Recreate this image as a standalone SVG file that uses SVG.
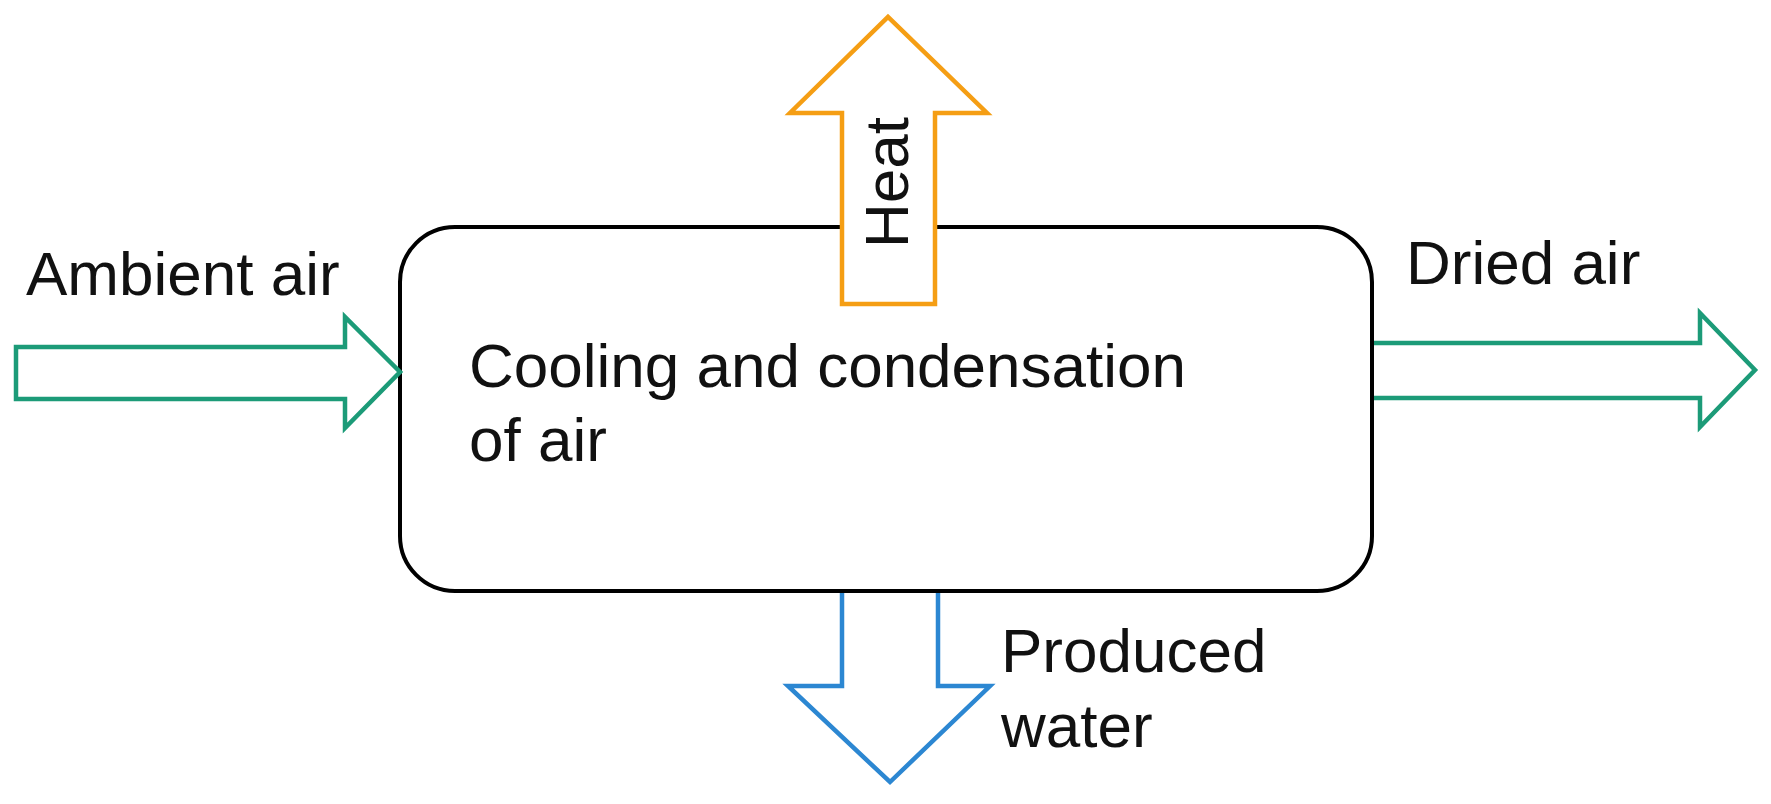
<svg xmlns="http://www.w3.org/2000/svg" width="1771" height="804" viewBox="0 0 1771 804">
  <style>
    .lbl { font-family: "Liberation Sans", Arial, sans-serif; font-size: 62px; fill: #111; }
    .main { font-family: "Liberation Sans", Arial, sans-serif; font-size: 62px; fill: #111; }
    .green { fill: #fff; stroke: #1C9B78; stroke-width: 4.5; stroke-linejoin: miter; }
    .orange { fill: #fff; stroke: #F59E14; stroke-width: 4.5; stroke-linejoin: miter; }
    .blue { fill: none; stroke: #2C87D2; stroke-width: 4.5; stroke-linejoin: miter; }
  </style>
  <rect width="1771" height="804" fill="#fff"/>
  <g id="process">
    <rect x="400" y="227" width="972" height="364" rx="55" ry="55" fill="#fff" stroke="#000" stroke-width="4"/>
    <text class="main" x="469" y="387">Cooling and condensation</text>
    <text class="main" x="469" y="461">of air</text>
  </g>
  <g id="connectors">
    <g id="ambient-air">
      <polygon class="green" points="16,347 345,347 345,317 400,372 345,428 345,399 16,399"/>
      <text class="lbl" x="26" y="295">Ambient air</text>
    </g>
    <g id="dried-air">
      <path class="green" fill="none" d="M1374,343 L1700,343 L1700,313 L1755,370 L1700,427 L1700,398 L1374,398"/>
      <text class="lbl" x="1406" y="284">Dried air</text>
    </g>
    <g id="heat">
      <polygon class="orange" points="842,304 842,113 790,113 888,17 987,113 935,113 935,304"/>
      <text class="lbl" transform="translate(908,248) rotate(-90)">Heat</text>
    </g>
    <g id="produced-water">
      <path class="blue" d="M842,593 L842,686 L788,686 L890,782 L990,686 L938,686 L938,593"/>
      <text class="lbl" x="1001" y="672">Produced</text>
      <text class="lbl" x="1001" y="747">water</text>
    </g>
  </g>
</svg>
